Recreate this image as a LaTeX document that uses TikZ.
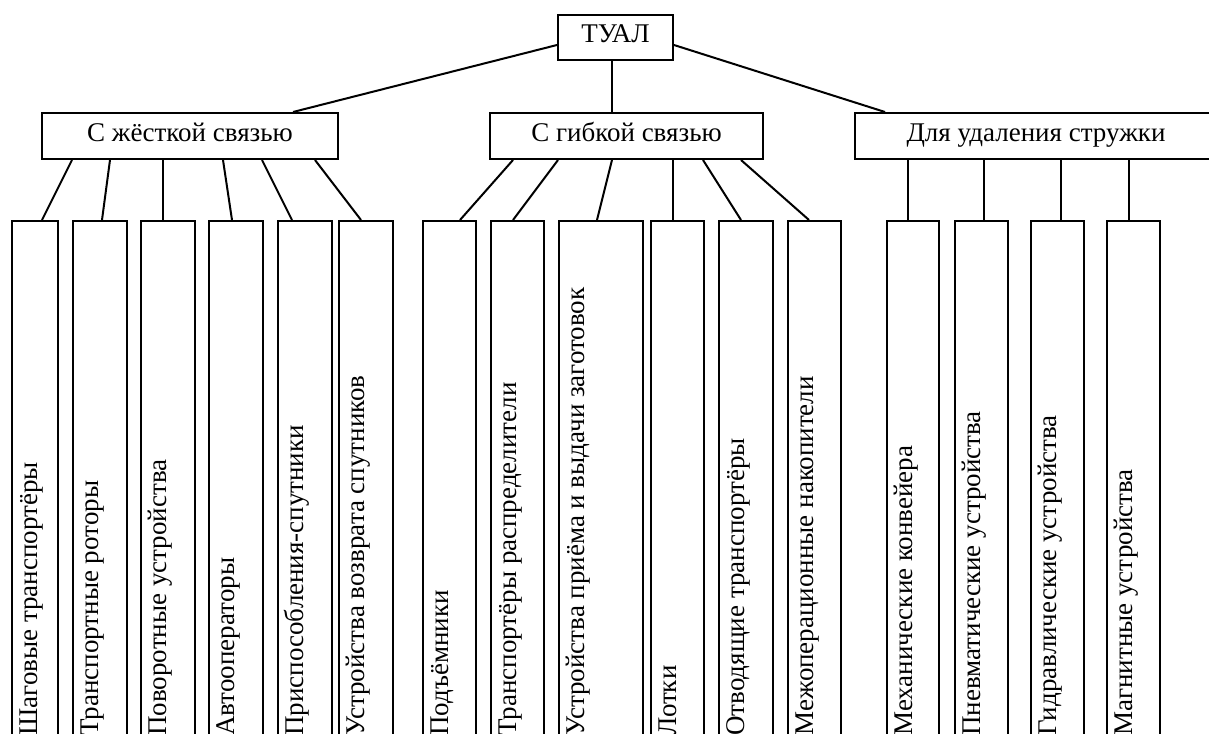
\documentclass[tikz,border=0pt]{standalone}
\usepackage{fontspec}
\setmainfont{Liberation Serif}
\usetikzlibrary{positioning}
\tikzset{
  topbox/.style={rectangle, draw, line width=1pt, inner sep=0pt,
                 text height=9.5pt, text depth=4pt,
                 font=\fontsize{13.5}{16}\selectfont},
  leafbox/.style={rectangle, draw, line width=1pt, inner sep=0pt,
                  minimum height=262.5pt},
  leaftext/.style={rotate=90, anchor=north west, inner sep=0pt,
                   text height=8.9pt, font=\fontsize{13.5}{16}\selectfont},
  link/.style={line width=1pt},
}
\begin{document}
\begin{tikzpicture}[x=0.5pt, y=-0.5pt]
  \useasboundingbox (0,0) rectangle (1209,733);
  \clip (0,0) rectangle (1209,733);

  % Root and second level
  \node[topbox, minimum width=57.5pt, minimum height=22.5pt] (tual) at (615.5,37.5) {ТУАЛ};
  \node[topbox, minimum width=148pt, minimum height=23pt] (hard) at (190,136) {С жёсткой связью};
  \node[topbox, minimum width=136.5pt, minimum height=23pt] (flex) at (626.5,136) {С гибкой связью};
  \node[topbox, minimum width=181pt, minimum height=23pt] (chip) at (1036,136) {Для удаления стружки};

  \draw[link] (tual.west |- 0,45) -- (hard.north -| 293,0);
  \draw[link] (tual.south -| 612,0) -- (flex.north -| 612,0);
  \draw[link] (tual.east |- 0,45) -- (chip.north -| 885,0);

  % Leaves: number/parent/left/right/parent x/leaf x/text
  \foreach \n/\p/\l/\r/\px/\cx/\txt in {
      1/hard/11/57/72/42/Шаговые транспортёры,
      2/hard/72/126/110/102/Транспортные роторы,
      3/hard/140/194/163/163/Поворотные устройства,
      4/hard/208/262/223/232/Автооператоры,
      5/hard/277/331/262/292/Приспособления-спутники,
      6/hard/338/392/315/361/Устройства возврата спутников,
      7/flex/422/475/513/460/Подъёмники,
      8/flex/490/543/558/513/Транспортёры распределители,
      9/flex/558/642/612/597/Устройства приёма и выдачи заготовок,
      10/flex/650/703/673/673/Лотки,
      11/flex/718/772/703/741/Отводящие транспортёры,
      12/flex/787/840/741/809/Межоперационные накопители,
      13/chip/886/938/908/908/Механические конвейера,
      14/chip/954/1007/984/984/Пневматические устройства,
      15/chip/1030/1083/1061/1061/Гидравлические устройства,
      16/chip/1106/1159/1129/1129/Магнитные устройства}{
    \node[leafbox, minimum width={(\r-\l)*0.5pt}, anchor=north west] (leaf\n) at (\l,220) {};
    \node[leaftext] (text\n) at (\l+8.5,736) {\txt};
    \draw[link] (\p.south -| \px,0) -- (leaf\n.north -| \cx,0);
  }
\end{tikzpicture}
\end{document}
